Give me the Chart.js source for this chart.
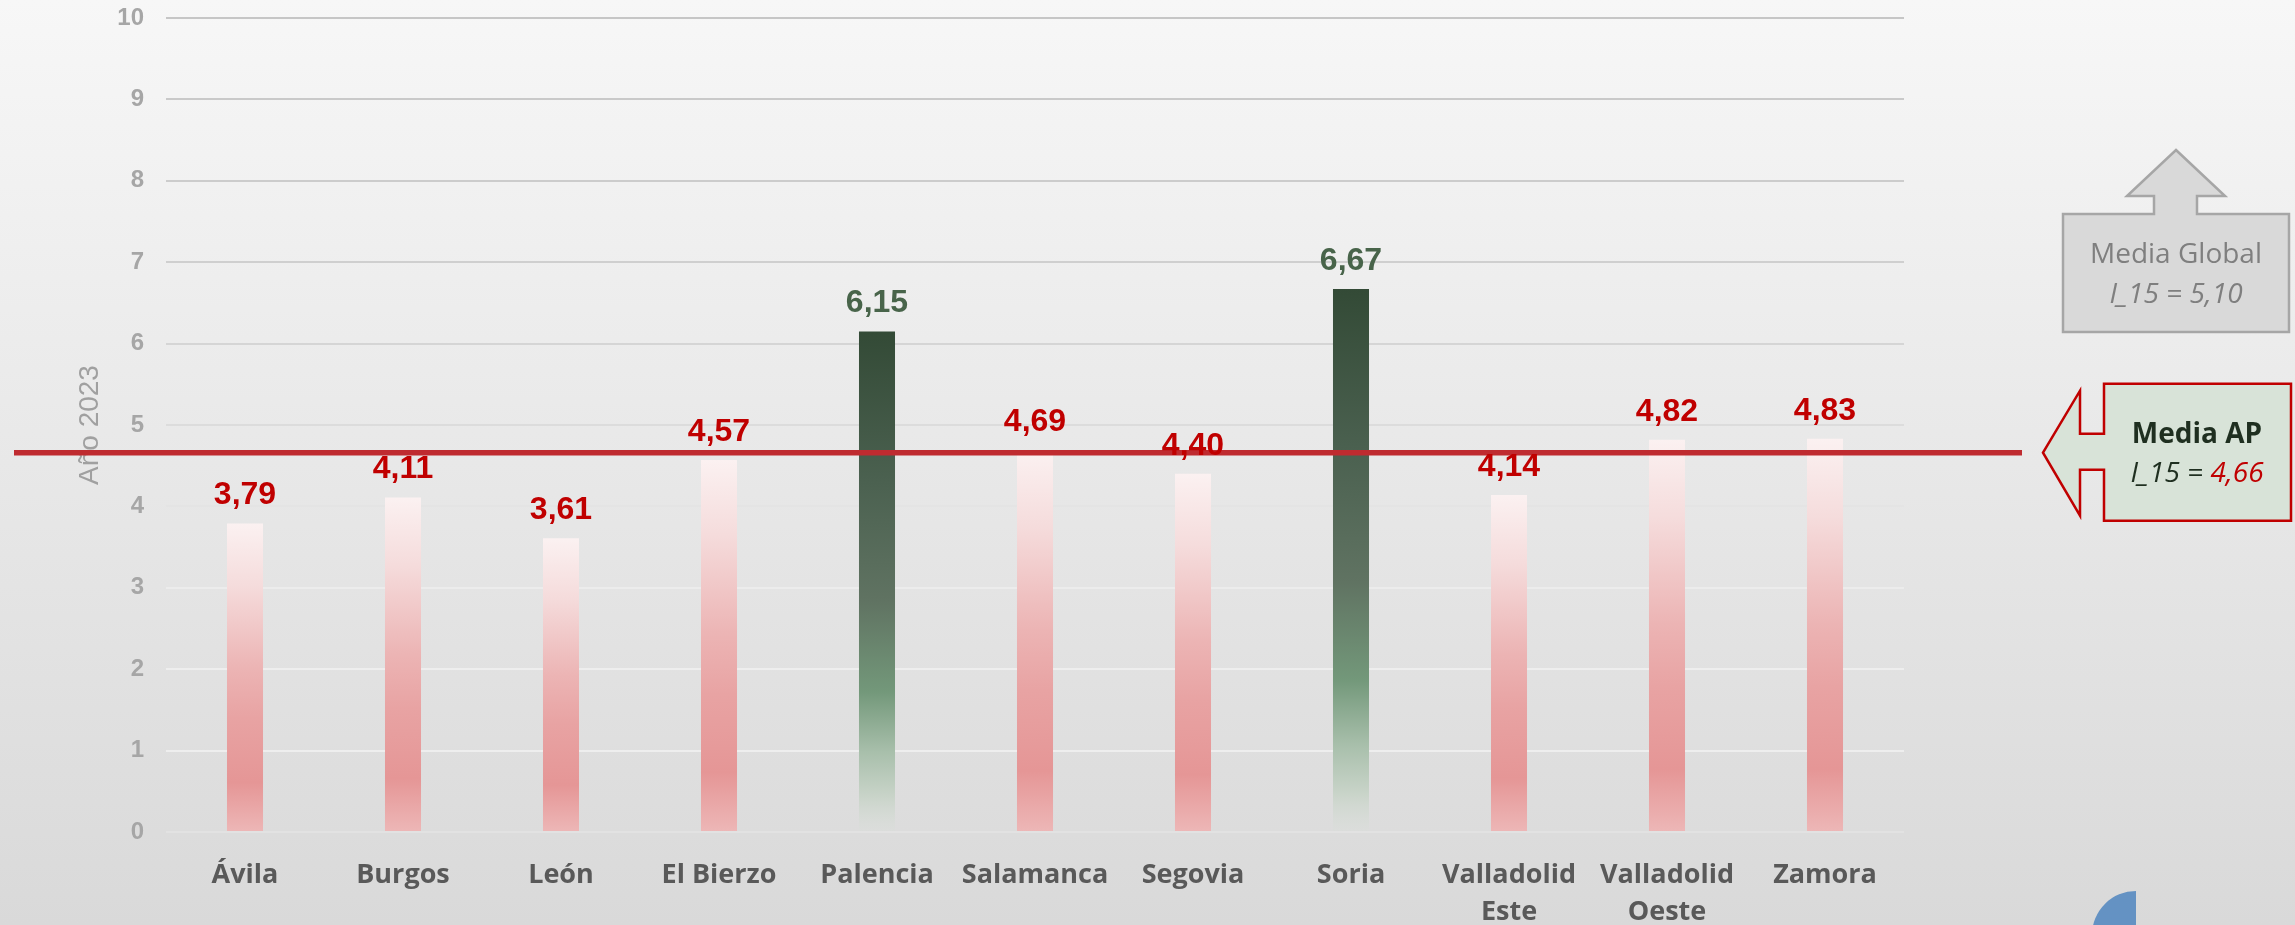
<!DOCTYPE html>
<html>
<head>
<meta charset="utf-8">
<title>I_15 por área - Año 2023</title>
<script src="https://cdn.jsdelivr.net/npm/chart.js"></script>
<style>
  html, body { margin: 0; padding: 0; }
  body { width: 2295px; height: 925px; overflow: hidden; }
  #wrap { position: relative; width: 2295px; height: 925px; }
</style>
</head>
<body>
<div id="wrap"><canvas id="chart"></canvas></div>
<script>
// datos
const areas = ['Ávila', 'Burgos', 'León', 'El Bierzo', 'Palencia', 'Salamanca', 'Segovia', 'Soria',
  ['Valladolid', 'Este'], ['Valladolid', 'Oeste'], 'Zamora'];
const valores = [3.79, 4.11, 3.61, 4.57, 6.15, 4.69, 4.40, 6.67, 4.14, 4.82, 4.83];
const yTicks = [0, 1, 2, 3, 4, 5, 6, 7, 8, 9, 10];
const mediaAP = 4.66;
const mediaGlobal = 5.10;

const fmt = v => v.toFixed(2).replace('.', ',');

// degradado vertical de cada barra, de arriba (valor) a abajo (0)
function barFill(c) {
  const chart = c.chart;
  if (!chart.chartArea || c.dataIndex === undefined) return '#e59696';
  const v = valores[c.dataIndex];
  const y = chart.scales.y;
  const top = y.getPixelForValue(v);
  const base = y.getPixelForValue(0);
  const g = chart.ctx.createLinearGradient(0, top, 0, base);
  if (v > mediaGlobal) {
    g.addColorStop(0, '#334a36');
    g.addColorStop(0.3, '#4b6150');
    g.addColorStop(0.54, '#607362');
    g.addColorStop(0.72, '#73987a');
    g.addColorStop(0.84, '#a8bfab');
    g.addColorStop(0.93, '#c9d4c9');
    g.addColorStop(1, 'rgba(218,222,218,0.4)');
  } else {
    g.addColorStop(0, '#fbf1f1');
    g.addColorStop(0.2, '#f5dcdc');
    g.addColorStop(0.47, '#ecb4b4');
    g.addColorStop(0.63, '#e8a3a3');
    g.addColorStop(0.84, '#e59696');
    g.addColorStop(1, '#edb7b7');
  }
  return g;
}

// gris de las líneas de rejilla según altura
const gridGray = {10: 198, 9: 201, 8: 204, 7: 207, 6: 213, 5: 220, 4: 228, 3: 236, 2: 238, 1: 238, 0: 226};

const fondo = {
  id: 'fondo',
  beforeDraw(chart) {
    const {ctx, width, height} = chart;
    const g = ctx.createLinearGradient(0, 0, 0, height);
    g.addColorStop(0, '#f7f7f7');
    g.addColorStop(1, '#d9d9d9');
    ctx.save();
    ctx.fillStyle = g;
    ctx.fillRect(0, 0, width, height);
    ctx.restore();
  }
};

const extras = {
  id: 'extras',
  afterDatasetsDraw(chart) {
    const {ctx} = chart;
    const y = chart.scales.y;
    const ly = y.getPixelForValue(mediaAP);

    // línea de la media AP
    ctx.save();
    ctx.strokeStyle = '#bf2b30';
    ctx.lineWidth = 5.5;
    ctx.beginPath();
    ctx.moveTo(14, ly);
    ctx.lineTo(2022, ly);
    ctx.stroke();

    // etiquetas de valor
    ctx.font = 'bold 32px "Liberation Sans"';
    ctx.textAlign = 'center';
    ctx.textBaseline = 'alphabetic';
    chart.getDatasetMeta(0).data.forEach((bar, i) => {
      const v = valores[i];
      ctx.fillStyle = v > mediaGlobal ? '#48644a' : '#c00000';
      ctx.fillText(fmt(v), bar.x, bar.y - 19);
    });
    ctx.restore();
  },
  afterDraw(chart) {
    const {ctx} = chart;
    const ly = chart.scales.y.getPixelForValue(mediaAP);
    ctx.save();

    // flecha gris: media global
    ctx.beginPath();
    ctx.moveTo(2176, 150);
    ctx.lineTo(2225, 196);
    ctx.lineTo(2197, 196);
    ctx.lineTo(2197, 214);
    ctx.lineTo(2289, 214);
    ctx.lineTo(2289, 332);
    ctx.lineTo(2063, 332);
    ctx.lineTo(2063, 214);
    ctx.lineTo(2154, 214);
    ctx.lineTo(2154, 196);
    ctx.lineTo(2127, 196);
    ctx.closePath();
    ctx.fillStyle = '#d9d9d9';
    ctx.fill();
    ctx.strokeStyle = '#a6a6a6';
    ctx.lineWidth = 2.5;
    ctx.stroke();

    ctx.textAlign = 'center';
    ctx.textBaseline = 'middle';
    ctx.fillStyle = '#7f7f7f';
    ctx.font = '28px "Open Sans"';
    ctx.fillText('Media Global', 2176, 255);
    ctx.font = 'italic 28px "Open Sans"';
    ctx.fillText('I_15 = ' + fmt(mediaGlobal), 2176, 295);

    // flecha verde: media AP
    ctx.beginPath();
    ctx.moveTo(2043, ly);
    ctx.lineTo(2080, ly - 62);
    ctx.lineTo(2080, ly - 19);
    ctx.lineTo(2104, ly - 19);
    ctx.lineTo(2104, ly - 69);
    ctx.lineTo(2291, ly - 69);
    ctx.lineTo(2291, ly + 68);
    ctx.lineTo(2104, ly + 68);
    ctx.lineTo(2104, ly + 17);
    ctx.lineTo(2080, ly + 17);
    ctx.lineTo(2080, ly + 63);
    ctx.closePath();
    ctx.fillStyle = '#d8e3d8';
    ctx.fill();
    ctx.strokeStyle = '#c00000';
    ctx.lineWidth = 2.5;
    ctx.stroke();

    ctx.fillStyle = '#1f2f20';
    ctx.font = 'bold 28px "Open Sans"';
    ctx.fillText('Media AP', 2197, ly - 18);
    ctx.font = 'italic 28px "Open Sans"';
    const a = 'I_15 = ', b = fmt(mediaAP);
    const wa = ctx.measureText(a).width, wb = ctx.measureText(b).width;
    const x0 = 2197 - (wa + wb) / 2;
    ctx.textAlign = 'left';
    ctx.fillText(a, x0, ly + 21);
    ctx.fillStyle = '#c00000';
    ctx.fillText(b, x0 + wa, ly + 21);

    // marca azul en la esquina
    ctx.beginPath();
    ctx.moveTo(2136, 935);
    ctx.arc(2136, 935, 44, Math.PI, 1.5 * Math.PI);
    ctx.closePath();
    ctx.fillStyle = '#6492c3';
    ctx.fill();
    ctx.restore();
  }
};

new Chart(document.getElementById('chart'), {
  type: 'bar',
  data: {
    labels: areas,
    datasets: [{
      data: valores,
      backgroundColor: barFill,
      borderWidth: 0,
      barPercentage: 0.228,
      categoryPercentage: 1
    }]
  },
  options: {
    responsive: true,
    maintainAspectRatio: false,
    animation: false,
    layout: { padding: { top: 18, right: 391, left: 0, bottom: 0 } },
    plugins: { legend: { display: false }, tooltip: { enabled: false } },
    scales: {
      x: {
        grid: { display: false, drawTicks: false },
        border: { display: false },
        ticks: {
          color: '#595959',
          font: { family: 'Open Sans', weight: 'bold', size: 27, lineHeight: 1.4 },
          padding: 24,
          maxRotation: 0,
          autoSkip: false
        },
        afterFit: s => { s.height = 93; }
      },
      y: {
        min: 0,
        max: 10,
        afterBuildTicks: s => { s.ticks = yTicks.map(v => ({ value: v })); },
        afterFit: s => {
          s.width = 166;
          s.paddingTop = 0;
          s.paddingBottom = 0;
        },
        border: { display: false },
        grid: {
          drawTicks: false,
          lineWidth: 2,
          color: c => {
            const g = gridGray[c.tick.value];
            return 'rgb(' + g + ',' + g + ',' + g + ')';
          }
        },
        ticks: {
          color: '#a6a6a6',
          font: { family: 'Liberation Sans', weight: 'bold', size: 24 },
          padding: 22
        },
        title: {
          display: true,
          text: 'Año 2023',
          color: '#a0a0a0',
          font: { family: 'Liberation Sans', size: 28 },
          padding: { top: 73, bottom: 0 }
        }
      }
    }
  },
  plugins: [fondo, extras]
});
</script>
</body>
</html>
